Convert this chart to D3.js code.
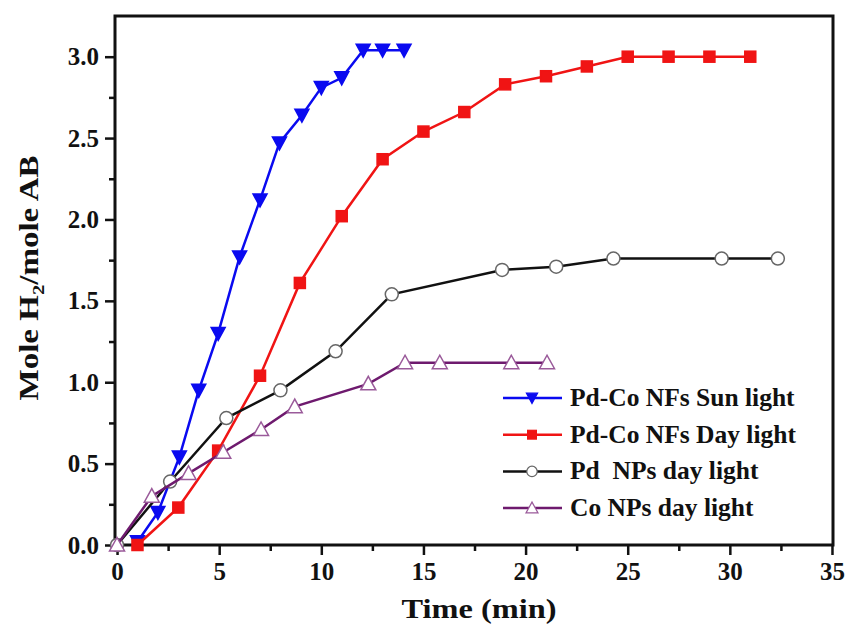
<!DOCTYPE html>
<html>
<head>
<meta charset="utf-8">
<script src="https://cdn.jsdelivr.net/npm/d3@7"></script>
<style>
body { margin: 0; background: #fff; }
text { font-family: "Liberation Serif", "Times New Roman", serif; font-weight: bold; fill: #111; white-space: pre; }
</style>
</head>
<body>
<svg width="847" height="628"></svg>
<script>
// data: time (min) and mole H2 / mole AB
var sunX = [1.0, 2.0, 3.05, 4.0, 4.95, 6.0, 7.0, 7.95, 9.05, 10.0, 11.0, 12.05, 13.0, 14.05];
var sunY = [0.02, 0.2, 0.54, 0.95, 1.30, 1.77, 2.12, 2.47, 2.64, 2.81, 2.87, 3.04, 3.04, 3.04];
var dayX = [1.0, 3.0, 4.95, 7.0, 8.95, 11.0, 13.0, 15.0, 17.0, 19.0, 21.0, 23.0, 25.0, 27.0, 29.0, 31.0];
var dayY = [0.0, 0.23, 0.58, 1.04, 1.61, 2.02, 2.37, 2.54, 2.66, 2.83, 2.88, 2.94, 3.0, 3.0, 3.0, 3.0];
var pdX = [0.0, 2.6, 5.35, 8.0, 10.7, 13.45, 18.85, 21.5, 24.3, 29.6, 32.35];
var pdY = [0.0, 0.39, 0.78, 0.95, 1.19, 1.54, 1.69, 1.71, 1.76, 1.76, 1.76];
var coX = [0.0, 1.7, 3.5, 5.2, 7.05, 8.7, 12.3, 14.1, 15.8, 19.3, 21.05];
var coY = [0.0, 0.30, 0.44, 0.57, 0.71, 0.85, 0.99, 1.12, 1.12, 1.12, 1.12];
var names = ["Pd-Co NFs Sun light", "Pd-Co NFs Day light", "Pd  NPs day light", "Co NPs day light"];
var xTicks = [0, 5, 10, 15, 20, 25, 30, 35];
var yTicks = [0.0, 0.5, 1.0, 1.5, 2.0, 2.5, 3.0];

var series = [
	{name: names[0], xs: sunX, ys: sunY, color: "#0a0af0", sym: "down", fill: "#0a0af0", stroke: "#0a0af0"},
	{name: names[1], xs: dayX, ys: dayY, color: "#f01414", sym: "square", fill: "#f01414", stroke: "#f01414"},
	{name: names[2], xs: pdX, ys: pdY, color: "#111", sym: "circle", fill: "#fff", stroke: "#666"},
	{name: names[3], xs: coX, ys: coY, color: "#6e1a6e", sym: "up", fill: "#fff", stroke: "#9a5a9a"}
];

var svg = d3.select("svg"),
	margin = {top: 16, right: 14, bottom: 83, left: 115},
	width = 847 - margin.left - margin.right,
	height = 628 - margin.top - margin.bottom,
	g = svg.append("g").attr("transform", "translate(" + margin.left + "," + margin.top + ")");

var x = d3.scaleLinear().domain([-0.1, 35.05]).range([0, width]);
var y = d3.scaleLinear().domain([0, 3.25]).range([height, 0]);

// axes with major + minor ticks
var xAxis = g.append("g").attr("transform", "translate(0," + height + ")")
	.call(d3.axisBottom(x).tickValues(xTicks).tickSize(10).tickSizeOuter(0).tickPadding(7).tickFormat(d3.format("d")));
var xMinor = g.append("g").attr("transform", "translate(0," + height + ")")
	.call(d3.axisBottom(x).tickValues(d3.range(2.5, 35, 5)).tickSize(6).tickSizeOuter(0).tickFormat(""));
var yAxis = g.append("g")
	.call(d3.axisLeft(y).tickValues(yTicks).tickSize(10).tickSizeOuter(0).tickPadding(6).tickFormat(d3.format(".1f")));
var yMinor = g.append("g")
	.call(d3.axisLeft(y).tickValues(d3.range(0.25, 3.25, 0.5)).tickSize(6).tickSizeOuter(0).tickFormat(""));

[xAxis, xMinor, yAxis, yMinor].forEach(function (a) {
	a.select(".domain").remove();
	a.selectAll("line").attr("stroke", "#111").attr("stroke-width", 2.5);
	a.selectAll("text").attr("font-size", 25).attr("font-family", "Liberation Serif").attr("font-weight", "bold").attr("fill", "#111");
});

// frame
g.append("rect")
	.attr("x", 0).attr("y", 0).attr("width", width).attr("height", height)
	.attr("fill", "none").attr("stroke", "#111").attr("stroke-width", 3);

var line = d3.line().x(function (d) { return x(d[0]); }).y(function (d) { return y(d[1]); });

function marker(sel, sym) {
	if (sym === "circle") {
		sel.append("circle").attr("r", 6.5);
	} else if (sym === "square") {
		sel.append("rect").attr("x", -5.5).attr("y", -5.5).attr("width", 11).attr("height", 11);
	} else if (sym === "down") {
		sel.append("path").attr("d", "M-7,-6L7,-6L0,7Z");
	} else {
		sel.append("path").attr("d", "M-7.5,6L7.5,6L0,-7.5Z");
	}
}

series.forEach(function (s) {
	var pts = s.xs.map(function (v, i) { return [v, s.ys[i]]; });
	g.append("path").datum(pts)
		.attr("d", line)
		.attr("fill", "none")
		.attr("stroke", s.color)
		.attr("stroke-width", 2.5);
	var m = g.selectAll(null).data(pts).enter().append("g")
		.attr("transform", function (d) { return "translate(" + x(d[0]) + "," + y(d[1]) + ")"; });
	marker(m, s.sym);
	m.selectAll("*").attr("fill", s.fill).attr("stroke", s.stroke).attr("stroke-width", 1.5);
});

// legend
var leg = svg.append("g").attr("transform", "translate(503,398)");
series.forEach(function (s, i) {
	var row = leg.append("g").attr("transform", "translate(0," + (i * 36.7) + ")");
	row.append("line").attr("x1", 0).attr("x2", 59).attr("y1", 0).attr("y2", 0)
		.attr("stroke", s.color).attr("stroke-width", 2.5);
	var m = row.append("g").attr("transform", "translate(29,0) scale(0.8)");
	marker(m, s.sym);
	m.selectAll("*").attr("fill", s.fill).attr("stroke", s.stroke).attr("stroke-width", 1.5);
	row.append("text").attr("x", 67).attr("y", 8).attr("font-size", 25.5).text(s.name);
});

// axis titles
svg.append("text")
	.attr("x", 479).attr("y", 618)
	.attr("text-anchor", "middle")
	.attr("font-size", 27)
	.attr("textLength", 155).attr("lengthAdjust", "spacingAndGlyphs")
	.text("Time (min)");

var yl = svg.append("text")
	.attr("transform", "translate(38,278) rotate(-90)")
	.attr("text-anchor", "middle")
	.attr("font-size", 27)
	.attr("textLength", 245).attr("lengthAdjust", "spacingAndGlyphs");
yl.append("tspan").text("Mole H");
yl.append("tspan").attr("font-size", 17).attr("dy", 6).text("2");
yl.append("tspan").attr("dy", -6).text("/mole AB");
</script>
</body>
</html>
